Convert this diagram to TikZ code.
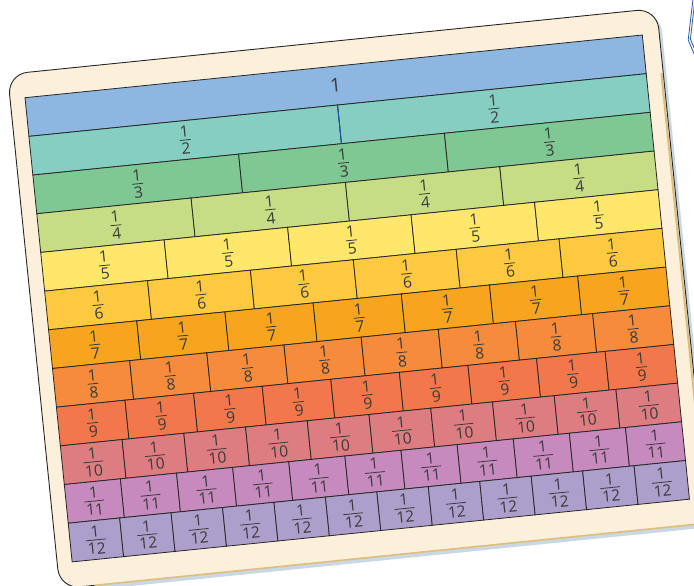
\documentclass[tikz,border=0pt]{standalone}
\usepackage{fontspec}
\setmainfont{Open Sans}
\definecolor{rowA}{HTML}{8DB6E0}
\definecolor{rowB}{HTML}{85CEC1}
\definecolor{rowC}{HTML}{7FC793}
\definecolor{rowD}{HTML}{C6DD86}
\definecolor{rowE}{HTML}{FFE76C}
\definecolor{rowF}{HTML}{FFC940}
\definecolor{rowG}{HTML}{F7A51F}
\definecolor{rowH}{HTML}{F68C3B}
\definecolor{rowI}{HTML}{F2784B}
\definecolor{rowJ}{HTML}{DE7D81}
\definecolor{rowK}{HTML}{C78ABE}
\definecolor{rowL}{HTML}{AD9FCB}
\definecolor{boardc}{HTML}{FDF0DB}
\definecolor{shadowc}{HTML}{C9D8E2}
\definecolor{tanc}{HTML}{DDBE7E}
\definecolor{linec}{HTML}{262626}
\definecolor{textc}{HTML}{3A3A3A}
\definecolor{dividc}{HTML}{1F5AA5}
\newbox\frbox
\newdimen\frw
\newcommand\fr[1]{\setbox\frbox=\hbox{#1}\frw=\wd\frbox\advance\frw by 2pt
  \vbox{\offinterlineskip\hbox to\frw{\hss 1\hss}\kern2.6pt\hrule height0.8pt\kern2.6pt\hbox to\frw{\hss\box\frbox\hss}}}
\begin{document}
\begin{tikzpicture}[x=1pt,y=-1pt,
  cell/.style={draw=linec, line width=0.8pt, inner sep=0pt, outer sep=0pt,
    minimum height=38.883pt, transform shape, text=textc,
    font=\fontsize{15.6}{18}\selectfont}]
\useasboundingbox (0,0) rectangle (694,586);
\begin{scope}[shift={(25,97.7)}, rotate=5.8]
  % board
  \fill[shadowc, rounded corners=20pt] (-12,-21) rectangle (640.5,496.5);
  \fill[boardc, rounded corners=20pt] (-15,-25) rectangle (637.5,492.2);
  \draw[tanc, line width=2pt] (635.6,40) -- (635.6,490.5);
  \draw[linec, line width=0.9pt, rounded corners=20pt]
    (20,492.2) -- (-15,492.2) -- (-15,-25) -- (637.5,-25) -- (637.5,492.2);
  \draw[tanc, line width=1.6pt] (20,492.2) -- (637.5,492.2);
  % fraction wall
  \foreach \k/\c in {1/rowA,2/rowB,3/rowC,4/rowD,5/rowE,6/rowF,7/rowG,8/rowH,9/rowI,10/rowJ,11/rowK,12/rowL}{
    \pgfmathsetmacro\w{620.5/\k}
    \foreach \j in {1,...,\k}{
      \node[cell, fill=\c, minimum width=\w pt] (c\k-\j)
        at ({(\j-0.5)*\w}, {(\k-0.5)*38.883})
        {\ifnum\k=1 {\fontsize{19}{22}\selectfont 1}\else\raisebox{-1pt}{\fr{\k}}\fi};
    }
  }
  \draw[dividc, line width=1pt] (c2-1.north east) -- (c2-1.south east);
\end{scope}
% partial blue object at top right
\draw[dividc, line width=0.8pt] (693,-1) -- (688.2,40) -- (695,56);
\draw[dividc, line width=0.8pt] (695,-1) -- (690.4,39.2) -- (695,50);
\end{tikzpicture}
\end{document}
